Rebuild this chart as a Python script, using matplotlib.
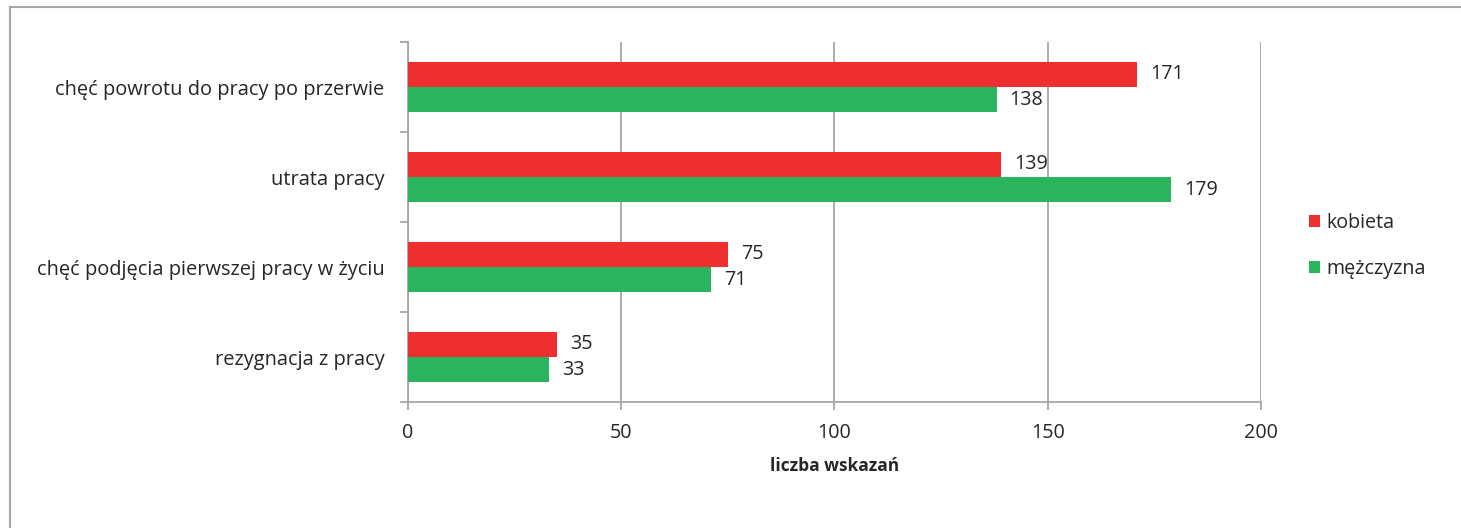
import matplotlib
matplotlib.use("Agg")
import matplotlib.pyplot as plt
from matplotlib.lines import Line2D
import numpy as np

categories = ["chęć powrotu do pracy po przerwie", "utrata pracy",
              "chęć podjęcia pierwszej pracy w życiu", "rezygnacja z pracy"]
kobieta = [171, 139, 75, 35]
mezczyzna = [138, 179, 71, 33]
series_names = ["kobieta", "mężczyzna"]
xticks = [0, 50, 100, 150, 200]

RED = "#EE2E2F"
GREEN = "#2AB45E"
GRID = "#A6A6A6"
TXT = "#262626"

plt.rcParams['font.family'] = ['Open Sans', 'DejaVu Sans']

fig = plt.figure(figsize=(14.61, 5.28), dpi=100)
ax = fig.add_axes([408/1461, 1-402/528, (1261-408)/1461, 360/528])

y = np.arange(len(categories))
h = 0.28
b1 = ax.barh(y - h/2, kobieta, height=h, color=RED, label=series_names[0], zorder=3)
b2 = ax.barh(y + h/2, mezczyzna, height=h, color=GREEN, label=series_names[1], zorder=3)

for bars, vals in ((b1, kobieta), (b2, mezczyzna)):
    for rect, v in zip(bars, vals):
        ax.annotate(str(v), (v, rect.get_y() + rect.get_height()/2),
                    xytext=(13, 0), textcoords="offset pixels",
                    va="center", ha="left", fontsize=14.2, color=TXT)

ax.set_xlim(0, 200)
ax.set_ylim(3.5, -0.5)
ax.set_xticks(xticks)
ax.set_xticklabels([str(t) for t in xticks], fontsize=14.2, color=TXT)
ax.set_yticks(y)
ax.set_yticklabels(categories, fontsize=14.4, color=TXT)
ax.tick_params(axis='y', which='major', length=0, pad=17)
ax.set_yticks(np.arange(-0.5, len(categories), 1.0), minor=True)
ax.tick_params(axis='y', which='minor', length=6, color=GRID, width=1.3)
ax.tick_params(axis='x', which='major', length=6, color=GRID, width=1.3, pad=9)
ax.xaxis.grid(True, color=GRID, linewidth=1.3, zorder=0)
ax.set_axisbelow(True)
for s in ("top", "right"):
    ax.spines[s].set_visible(False)
for s in ("left", "bottom"):
    ax.spines[s].set_color(GRID)
    ax.spines[s].set_linewidth(1.3)

ax.set_xlabel("liczba wskazań", fontsize=12.5, fontweight="bold", color=TXT, labelpad=10)

leg = fig.legend(handles=[b1, b2], labels=series_names, loc="upper left",
                 bbox_to_anchor=(1291/1461, 1-195/528), frameon=False,
                 fontsize=14.2, handlelength=0.55, handleheight=0.55,
                 handletextpad=0.35, labelspacing=1.35, labelcolor=TXT)

# outer border
fig.add_artist(Line2D([10/1461, 10/1461], [0, 1-7/528], color="#A6A6A6", linewidth=1.5,
                      transform=fig.transFigure))
fig.add_artist(Line2D([10/1461, 1], [1-7/528, 1-7/528], color="#A6A6A6", linewidth=1.5,
                      transform=fig.transFigure))

fig.savefig("out.png", dpi=100)
